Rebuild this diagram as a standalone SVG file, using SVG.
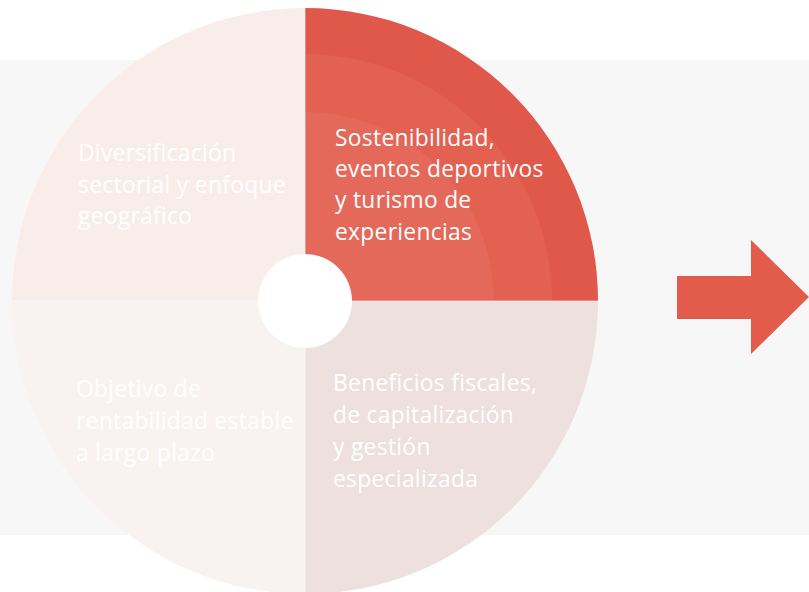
<svg xmlns="http://www.w3.org/2000/svg" width="809" height="592" viewBox="0 0 809 592">
<style>
.lbl{font-family:"Open Sans","Noto Sans","Liberation Sans",sans-serif;font-size:22.8px;fill:#ffffff;letter-spacing:0.3px}
.sep{stroke:#ffffff;stroke-width:1;stroke-opacity:0.6;fill:none}
</style>
<rect x="0" y="0" width="809" height="592" fill="#ffffff"/>
<rect id="band" x="0" y="60" width="809" height="475" fill="#f7f7f7"/>
<g id="q-top-left">
<path d="M305 301 L12 301 A293 293 0 0 1 305 8 Z" fill="#f9edea"/>
<text class="lbl" x="78" y="161">Diversificación</text>
<text class="lbl" x="78" y="193">sectorial y enfoque</text>
<text class="lbl" x="78" y="224">geográfico</text>
</g>
<g id="q-top-right">
<path d="M305 301 L305 8 A293 293 0 0 1 598 301 Z" fill="#e05849"/>
<path d="M305 301 L305 54 A247 247 0 0 1 552 301 Z" fill="#e36151"/>
<path d="M305 301 L305 112 A189 189 0 0 1 494 301 Z" fill="#e5695a"/>
<text class="lbl" x="335" y="146">Sostenibilidad,</text>
<text class="lbl" x="335" y="177">eventos deportivos</text>
<text class="lbl" x="335" y="208">y turismo de</text>
<text class="lbl" x="335" y="240">experiencias</text>
</g>
<g id="q-bottom-right">
<path d="M305 301 L598 301 A293 293 0 0 1 305 594 Z" fill="#ede0de"/>
<text class="lbl" x="333" y="391">Beneficios fiscales,</text>
<text class="lbl" x="333" y="423">de capitalización</text>
<text class="lbl" x="333" y="455">y gestión</text>
<text class="lbl" x="333" y="487">especializada</text>
</g>
<g id="q-bottom-left">
<path d="M305 301 L305 594 A293 293 0 0 1 12 301 Z" fill="#f8f3f1"/>
<text class="lbl" x="76" y="397">Objetivo de</text>
<text class="lbl" x="76" y="429">rentabilidad estable</text>
<text class="lbl" x="76" y="461">a largo plazo</text>
</g>
<g id="separators">
<line class="sep" x1="12" y1="301" x2="598" y2="301"/>
<line class="sep" x1="305" y1="8" x2="305" y2="594"/>
</g>
<g id="center">
<circle cx="305" cy="301" r="47" fill="#ffffff"/>
</g>
<g id="connectors">
<polygon points="677,276 751,276 751,240 809,297 751,354 751,319 677,319" fill="#e35b4b"/>
</g>
</svg>
